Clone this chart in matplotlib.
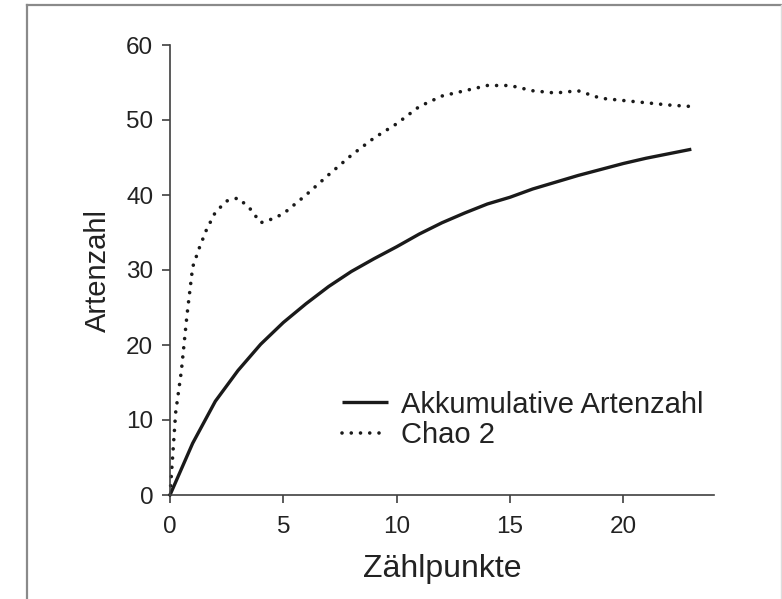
import matplotlib
matplotlib.use("Agg")
import matplotlib.pyplot as plt
from matplotlib.lines import Line2D

# Data
x_akk = [0, 1, 2, 3, 4, 5, 6, 7, 8, 9, 10, 11, 12, 13, 14, 15, 16, 17, 18, 19, 20, 21, 22, 23]
y_akk = [0, 6.9, 12.5, 16.6, 20.1, 23.0, 25.5, 27.8, 29.8, 31.5, 33.1, 34.8, 36.3, 37.6,
         38.8, 39.7, 40.8, 41.7, 42.6, 43.4, 44.2, 44.9, 45.5, 46.1]

x_chao = [0, 0.25, 0.5, 0.75, 1, 1.3, 1.6, 2, 2.5, 3, 3.5, 4, 4.5, 5, 6, 7, 8, 9, 10,
          11, 12, 13, 14, 15, 16, 17, 18, 19, 20, 21, 22, 23]
y_chao = [0, 11.0, 16.5, 24.0, 30.4, 33.0, 35.3, 37.7, 39.2, 39.6, 38.3, 36.3, 36.8, 37.5,
          40.0, 42.7, 45.3, 47.6, 49.5, 51.8, 53.2, 53.9, 54.6, 54.6, 53.9, 53.6, 53.9,
          52.9, 52.6, 52.3, 52.0, 51.8]

labels = ["Akkumulative Artenzahl", "Chao 2"]
x_ticks = [0, 5, 10, 15, 20]
y_ticks = [0, 10, 20, 30, 40, 50, 60]

plt.rcParams['font.family'] = ['Liberation Sans', 'DejaVu Sans']

fig = plt.figure(figsize=(7.82, 5.99), dpi=100)
ax = fig.add_axes([170/782, 1 - 495/599, 544/782, 450/599])

ink = '#1a1a1a'
ax.plot(x_akk, y_akk, color=ink, lw=2.4, solid_capstyle='butt', clip_on=False, label=labels[0])
ax.plot(x_chao, y_chao, color=ink, lw=2.6, linestyle=(0, (0.01, 2.55)),
        dash_capstyle='round', clip_on=False, label=labels[1])

ax.set_xlim(0, 24)
ax.set_ylim(0, 60)
ax.set_xticks(x_ticks)
ax.set_yticks(y_ticks)
for s in ['top', 'right']:
    ax.spines[s].set_visible(False)
for s in ['left', 'bottom']:
    ax.spines[s].set_color('#404040')
    ax.spines[s].set_linewidth(1.2)
ax.tick_params(direction='out', length=6, width=1.2, color='#404040',
               labelsize=17.5, labelcolor='#222222')
ax.tick_params(axis='x', pad=9)
ax.tick_params(axis='y', pad=6)

ax.set_xlabel('Zählpunkte', fontsize=23, color='#222222', labelpad=12)
ax.set_ylabel('Artenzahl', fontsize=21, color='#222222', labelpad=10)

leg = ax.legend(loc='center left', bbox_to_anchor=(0.3156, 0.1667), frameon=False,
                fontsize=21, handlelength=1.6, handletextpad=0.45, borderpad=0,
                borderaxespad=0, labelspacing=0.1, labelcolor='#222222')

# Figure border lines
fig.add_artist(Line2D([27/782, 27/782], [0, 1 - 5/599], transform=fig.transFigure,
                      color='#8a8a8a', lw=1.6))
fig.add_artist(Line2D([27/782, 1], [1 - 5/599, 1 - 5/599], transform=fig.transFigure,
                      color='#8a8a8a', lw=1.6))
fig.add_artist(Line2D([781/782, 781/782], [0, 1 - 5/599], transform=fig.transFigure,
                      color='#dddddd', lw=1.0))

fig.savefig('out.png', dpi=100, facecolor='white')
